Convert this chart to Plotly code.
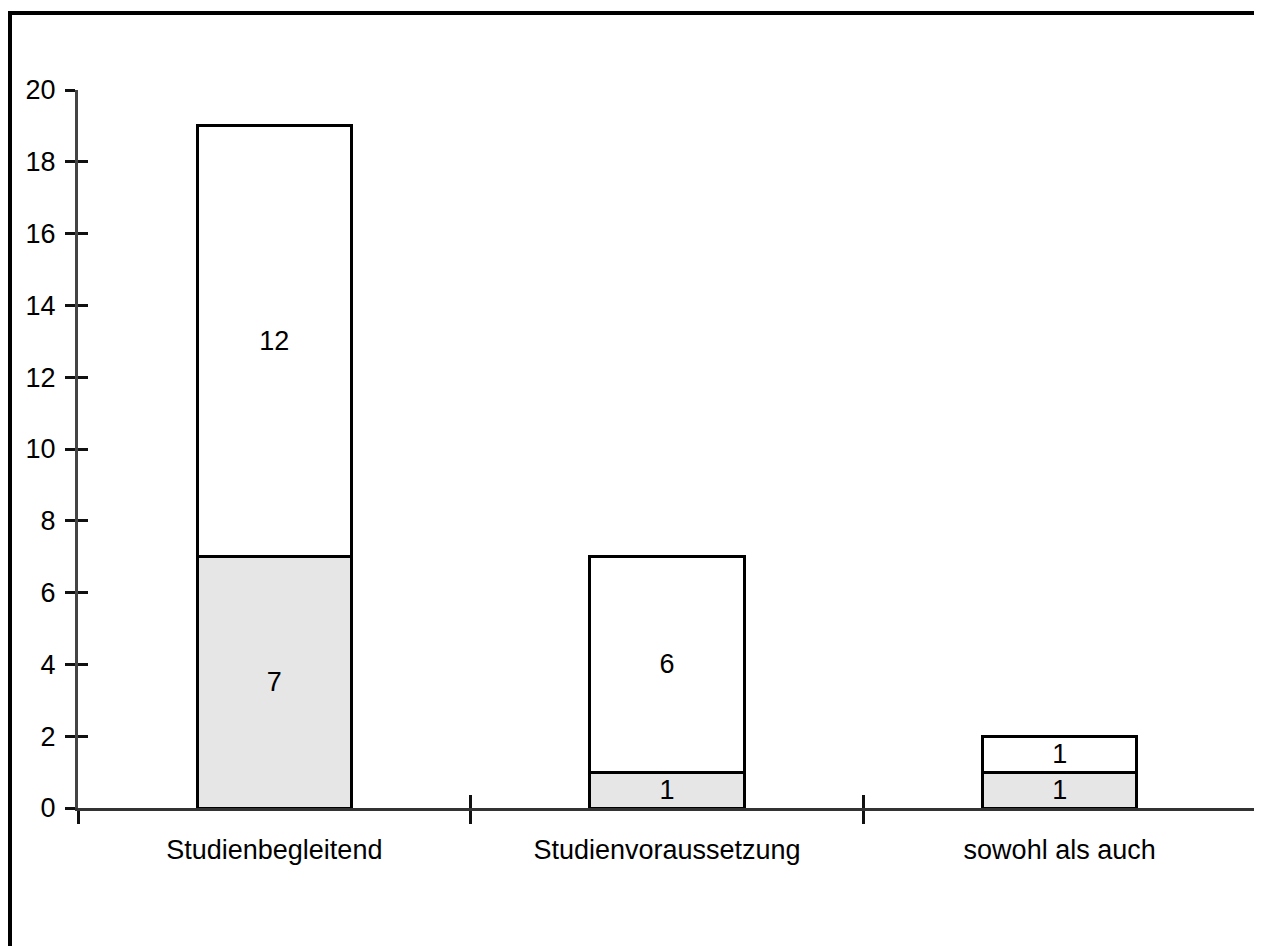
import plotly.graph_objects as go

categories = ["Studienbegleitend", "Studienvoraussetzung", "sowohl als auch"]
lower_values = [7, 1, 1]
upper_values = [12, 6, 1]
y_ticks = [0, 2, 4, 6, 8, 10, 12, 14, 16, 18, 20]

FONT = "Liberation Sans, Arial, sans-serif"
FS = 27
OFF = 8  # page body margin
W, H = 1262 - OFF, 946 - OFF
L, R, T, B = 78 - OFF, 6, 90 - OFF, 138

fig = go.Figure()
fig.add_trace(go.Bar(
    x=categories, y=lower_values, text=[str(v) for v in lower_values],
    textposition="inside", insidetextanchor="middle", constraintext="none", textangle=0,
    textfont=dict(family=FONT, size=FS, color="black"),
    marker=dict(color="#e6e6e6", line=dict(color="black", width=3)),
    showlegend=False, hoverinfo="skip"))
fig.add_trace(go.Bar(
    x=categories, y=upper_values, text=[str(v) for v in upper_values],
    textposition="inside", insidetextanchor="middle", constraintext="none", textangle=0,
    textfont=dict(family=FONT, size=FS, color="black"),
    marker=dict(color="white", line=dict(color="black", width=3)),
    showlegend=False, hoverinfo="skip"))
# helper (invisible) trace for overlay axes that draw the inner half of the cross ticks
fig.add_trace(go.Scatter(x=categories, y=lower_values, mode="none",
                         xaxis="x2", yaxis="y2", showlegend=False, hoverinfo="skip"))

plot_w = W - L - R
plot_h = H - T - B

fig.update_layout(
    width=W, height=H,
    margin=dict(l=L, r=R, t=T, b=B, autoexpand=False),
    barmode="stack", bargap=0.607,
    paper_bgcolor="white", plot_bgcolor="white",
    font=dict(family=FONT, size=FS, color="black"),
    xaxis=dict(type="category", categoryorder="array", categoryarray=categories,
               range=[-0.5, 2.5], tickson="boundaries", ticks="outside", ticklen=13,
               tickwidth=3, tickcolor="#111", showline=True, linewidth=3, linecolor="#333",
               showgrid=False, zeroline=False, ticklabelstandoff=16,
               tickfont=dict(family=FONT, size=FS, color="black")),
    yaxis=dict(range=[0, 20], tickvals=y_ticks, ticks="outside", ticklen=10,
               tickwidth=3, tickcolor="#111", showline=True, linewidth=3, linecolor="#444",
               showgrid=False, zeroline=False, ticklabelstandoff=4,
               tickfont=dict(family=FONT, size=FS, color="black")),
    xaxis2=dict(type="category", categoryorder="array", categoryarray=categories,
                range=[-0.5, 2.5002], overlaying="x", anchor="y2", side="bottom",
                tickson="boundaries", ticks="inside", ticklen=13, tickwidth=3,
                tickcolor="#111", showticklabels=False, showline=False, showgrid=False,
                zeroline=False),
    yaxis2=dict(range=[0, 20.002], tickvals=y_ticks, overlaying="y", anchor="x2", side="left",
                ticks="inside", ticklen=10, tickwidth=3, tickcolor="#111",
                showticklabels=False, showline=False, showgrid=False, zeroline=False),
    shapes=[dict(type="rect", xref="paper", yref="paper", layer="above",
                 x0=(10 - OFF - L) / plot_w, x1=1.2,
                 y0=-0.6, y1=1 + (T - (13 - OFF)) / plot_h,
                 line=dict(color="black", width=4), fillcolor="rgba(0,0,0,0)")],
)

fig.write_html("out.html")
